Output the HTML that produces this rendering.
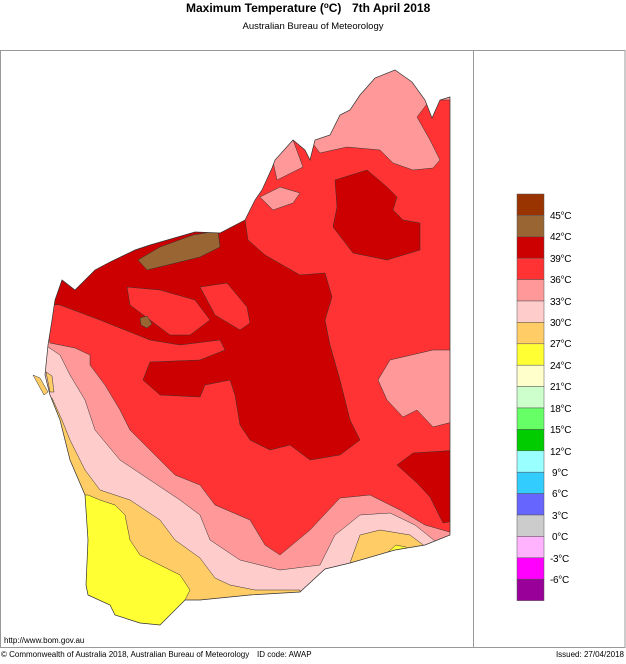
<!DOCTYPE html>
<html><head><meta charset="utf-8"><style>
body{margin:0;background:#fff;width:626px;height:659px;overflow:hidden;font-family:"Liberation Sans",Arial,sans-serif}
</style></head><body>
<svg width="626" height="659" xmlns="http://www.w3.org/2000/svg" font-family="Liberation Sans, Arial, sans-serif">
<text x="186" y="12" font-size="12" font-weight="bold">Maximum Temperature (<tspan font-size="8" dy="-4">o</tspan><tspan dy="4">C)</tspan></text>
<text x="352" y="12" font-size="12" font-weight="bold">7th April 2018</text>
<text x="313" y="29" font-size="9.5" text-anchor="middle">Australian Bureau of Meteorology</text>
<rect x="0.5" y="50.5" width="624.5" height="597" fill="none" stroke="#999" stroke-width="1"/>
<line x1="473.5" y1="50" x2="473.5" y2="647" stroke="#999"/>
<defs><clipPath id="land"><path id="lp" d="M450,97 L440,100 L432,118 L425,100 L412,82 L395,70 L375,78 L360,95 L350,110 L340,115 L330,135 L315,140 L310,160 L305,150 L293,140 L275,160 L272,168 L262,190 L255,200 L245,220 L220,233 L195,232 L150,245 L135,250 L110,262 L95,270 L75,290 L62,280 L55,300 L52,320 L48,345 L45,375 L50,395 L60,420 L70,460 L85,495 L88,540 L86,585 L88,595 L110,605 L115,615 L140,623 L160,625 L175,610 L185,600 L200,600 L250,595 L300,592 L325,569 L350,563 L395,550 L425,545 L450,535 Z"/></clipPath></defs>
<g clip-path="url(#land)">
<rect x="0" y="50" width="473" height="600" fill="#ff3333"/>
<path fill="#cc0000" stroke="#333" stroke-width="0.5" d="M0,200 L245,220 L248,240 L265,255 L300,275 L325,273 L332,297 L325,320 L330,345 L340,380 L350,420 L360,440 L340,455 L310,460 L290,445 L270,450 L250,440 L240,425 L235,395 L230,380 L205,385 L200,397 L160,395 L143,380 L150,362 L200,360 L225,350 L220,340 L180,345 L150,340 L100,320 L60,305 L0,300 Z"/>
<path fill="#ff3333" stroke="#333" stroke-width="0.5" d="M127,287 L160,290 L195,300 L210,320 L190,335 L170,335 L150,320 L130,305 Z M200,287 L227,283 L247,307 L250,323 L240,330 L215,315 Z"/>
<path fill="#996633" stroke="#333" stroke-width="0.5" d="M138,260 L160,247 L193,235 L218,231 L220,247 L200,257 L147,270 Z M140,318 L147,316 L152,324 L147,328 L141,325 Z"/>
<path fill="#cc0000" stroke="#333" stroke-width="0.5" d="M335,180 L367,170 L387,187 L397,197 L393,210 L403,220 L420,223 L420,250 L387,260 L353,253 L333,227 L337,207 Z"/>
<path fill="#ff9999" stroke="#333" stroke-width="0.5" d="M300,50 L460,50 L460,100 L430,100 L417,117 L430,140 L440,160 L433,168 L413,170 L393,163 L380,150 L347,147 L320,153 L310,140 Z M272,157 L293,140 L303,167 L277,180 Z M260,197 L280,187 L300,193 L293,203 L273,210 Z"/>
<path fill="#ff9999" stroke="#333" stroke-width="0.5" d="M378,380 L390,360 L433,350 L460,350 L460,420 L433,427 L417,410 L403,417 L387,400 Z"/>
<path fill="#cc0000" stroke="#333" stroke-width="0.5" d="M397,465 L413,453 L460,450 L460,520 L443,523 L430,497 L417,483 Z"/>
<path fill="#ff9999" stroke="#333" stroke-width="0.5" d="M0,330 L47,330 L50,343 L75,348 L90,355 L90,365 L105,385 L120,410 L130,430 L145,445 L175,475 L200,485 L215,505 L250,520 L265,545 L280,555 L310,530 L340,498 L370,495 L400,510 L425,525 L460,535 L460,660 L0,660 Z"/>
<path fill="#ffcccc" stroke="#333" stroke-width="0.5" d="M0,345 L45,345 L60,355 L70,375 L85,400 L95,430 L120,460 L150,480 L180,500 L200,515 L210,540 L240,560 L280,570 L320,565 L335,535 L360,515 L390,513 L415,525 L440,545 L460,660 L0,660 Z"/>
<path fill="#ffcc66" stroke="#333" stroke-width="0.5" d="M0,398 L52,398 L62,420 L70,440 L85,470 L100,490 L130,500 L160,520 L175,540 L200,558 L215,578 L230,585 L255,590 L300,590 L300,660 L0,660 Z M350,563 L360,535 L380,530 L410,535 L430,550 L400,560 Z"/>
<path fill="#ffff33" stroke="#333" stroke-width="0.5" d="M0,495 L88,495 L100,500 L115,505 L125,515 L130,540 L140,555 L160,565 L180,575 L190,590 L185,600 L175,610 L160,625 L0,660 Z M388,552 L396,545 L406,547 L410,553 Z"/>
</g>
<use href="#lp" fill="none" stroke="#333" stroke-width="0.7"/>
<path d="M33,375 L40,378 L48,392 L44,395 Z M46,372 L52,376 L54,392 L50,392 Z" fill="#ffcc66" stroke="#333" stroke-width="0.5"/>
<g stroke="#555" stroke-width="0.5">
<rect x="517" y="194" width="27" height="21.4" fill="#993300"/>
<rect x="517" y="215.4" width="27" height="21.4" fill="#996633"/>
<rect x="517" y="236.8" width="27" height="21.4" fill="#cc0000"/>
<rect x="517" y="258.2" width="27" height="21.4" fill="#ff3333"/>
<rect x="517" y="279.6" width="27" height="21.4" fill="#ff9999"/>
<rect x="517" y="301" width="27" height="21.4" fill="#ffcccc"/>
<rect x="517" y="322.4" width="27" height="21.4" fill="#ffcc66"/>
<rect x="517" y="343.8" width="27" height="21.4" fill="#ffff33"/>
<rect x="517" y="365.2" width="27" height="21.4" fill="#ffffcc"/>
<rect x="517" y="386.6" width="27" height="21.4" fill="#ccffcc"/>
<rect x="517" y="408" width="27" height="21.4" fill="#66ff66"/>
<rect x="517" y="429.4" width="27" height="21.4" fill="#00cc00"/>
<rect x="517" y="450.8" width="27" height="21.4" fill="#99ffff"/>
<rect x="517" y="472.2" width="27" height="21.4" fill="#33ccff"/>
<rect x="517" y="493.6" width="27" height="21.4" fill="#6666ff"/>
<rect x="517" y="515" width="27" height="21.4" fill="#cccccc"/>
<rect x="517" y="536.4" width="27" height="21.4" fill="#ffb3ff"/>
<rect x="517" y="557.8" width="27" height="21.4" fill="#ff00ff"/>
<rect x="517" y="579.2" width="27" height="21.4" fill="#990099"/>
</g>
<g font-size="10" letter-spacing="-0.3">
<text x="550" y="219">45°C</text><text x="550" y="240">42°C</text><text x="550" y="262">39°C</text>
<text x="550" y="283">36°C</text><text x="550" y="305">33°C</text><text x="550" y="326">30°C</text>
<text x="550" y="347">27°C</text><text x="550" y="369">24°C</text><text x="550" y="390">21°C</text>
<text x="550" y="412">18°C</text><text x="550" y="433">15°C</text><text x="550" y="455">12°C</text>
<text x="552" y="476">9°C</text><text x="552" y="497">6°C</text><text x="552" y="519">3°C</text>
<text x="552" y="540">0°C</text><text x="550" y="562">-3°C</text><text x="550" y="583">-6°C</text>
</g>
<text x="4" y="643" font-size="8">http://www.bom.gov.au</text>
<text x="1" y="657" font-size="8">© Commonwealth of Australia 2018, Australian Bureau of Meteorology</text>
<text x="257" y="657" font-size="8">ID code: AWAP</text>
<text x="624" y="657" font-size="8" text-anchor="end">Issued: 27/04/2018</text>
</svg>
</body></html>
